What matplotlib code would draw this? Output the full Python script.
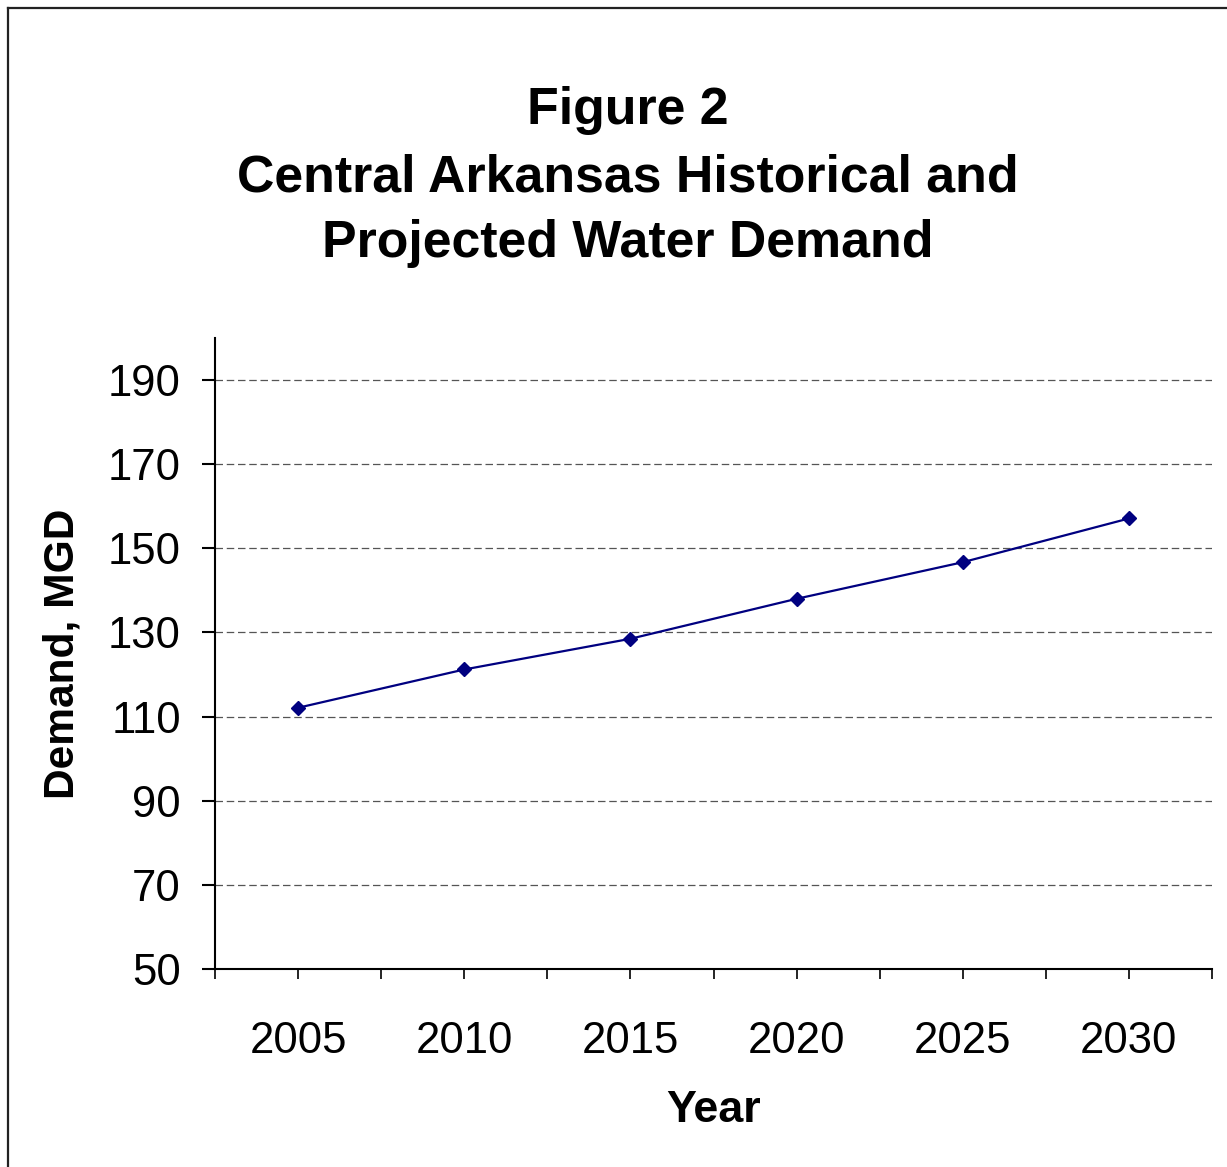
import matplotlib
matplotlib.use("Agg")
import matplotlib.pyplot as plt
from matplotlib.lines import Line2D
import numpy as np

# Demand series (million gallons per day)
years = ["2005", "2010", "2015", "2020", "2025", "2030"]
demand_mgd = [112.1, 121.2, 128.5, 138.0, 146.7, 157.1]
y_ticks = [50, 70, 90, 110, 130, 150, 170, 190]

title_lines = ["Figure 2", "Central Arkansas Historical and", "Projected Water Demand"]

W, H = 1227, 1167
fig = plt.figure(figsize=(W / 100, H / 100), dpi=100)
fig.patch.set_facecolor("white")
plt.rcParams["font.family"] = ["Liberation Sans", "DejaVu Sans"]

# Axes placement in pixels: left, right, top, bottom
L, R, T, B = 215, 1212, 338, 969
ax = fig.add_axes([L / W, 1 - B / H, (R - L) / W, (B - T) / H])

x = np.arange(1, len(years) + 1)
ax.plot(x, demand_mgd, color="#000080", lw=1.6, marker="D", ms=7.3,
        markerfacecolor="#000080", markeredgecolor="#000080", zorder=3)

ax.set_xlim(0.5, len(years) + 0.5)
ax.set_ylim(50, 200)
ax.set_yticks(y_ticks)
ax.set_yticklabels([str(v) for v in y_ticks])
ax.set_xticks(x)
ax.set_xticklabels(years)
ax.set_xticks(np.arange(0.5, len(years) + 1, 1.0), minor=True)

for s in ("top", "right"):
    ax.spines[s].set_visible(False)
for s in ("left", "bottom"):
    ax.spines[s].set_linewidth(1.5)
    ax.spines[s].set_color("black")

ax.tick_params(axis="x", which="both", direction="out", length=7.2, width=1.2,
               color="black", labelsize=31.4, pad=30)
ax.tick_params(axis="y", which="major", direction="out", length=9.5, width=1.5,
               color="black", labelsize=31.4, pad=15)

ax.yaxis.grid(True, linestyle=(0, (6, 3)), color="#555555", lw=0.9)
ax.set_axisbelow(True)

ax.set_xlabel("Year", fontsize=32.3, fontweight="bold")
ax.set_ylabel("Demand, MGD", fontsize=30.6, fontweight="bold")
ax.yaxis.set_label_coords(-(L - 63) / (R - L), 0.5)
ax.xaxis.set_label_coords(0.5, -(1110 - B) / (B - T))
ax.xaxis.label.set_verticalalignment("center")
ax.yaxis.label.set_verticalalignment("center")

# Title, three lines
baselines = [124, 191, 257]
for line, yb in zip(title_lines, baselines):
    fig.text(628 / W, 1 - yb / H, line, ha="center", va="baseline",
             fontsize=37.4, fontweight="bold")

# Chart-area frame (left and top edges)
fig.add_artist(Line2D([8 / W, 8 / W], [0, 1 - 8 / H], transform=fig.transFigure,
                      color="#222222", lw=1.6))
fig.add_artist(Line2D([8 / W, 1], [1 - 8 / H, 1 - 8 / H], transform=fig.transFigure,
                      color="#222222", lw=1.6))

fig.savefig("out.png", dpi=100, facecolor="white")
